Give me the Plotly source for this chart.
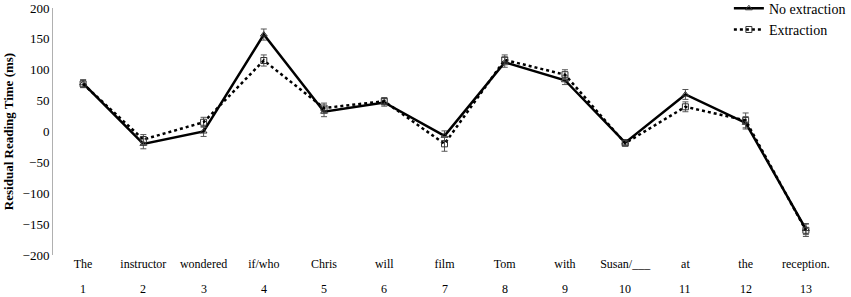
import plotly.graph_objects as go

positions = [1, 2, 3, 4, 5, 6, 7, 8, 9, 10, 11, 12, 13]
words = ["The", "instructor", "wondered", "if/who", "Chris", "will", "film",
         "Tom", "with", "Susan/___", "at", "the", "reception."]
no_extraction = [78, -20, 0, 157, 32, 47, -7, 112, 83, -18, 60, 14, -158]
no_extraction_err = [6, 8, 8, 9, 8, 6, 8, 8, 7, 5, 8, 10, 9]
extraction = [77, -13, 15, 115, 38, 49, -20, 116, 92, -19, 40, 18, -160]
extraction_err = [6, 8, 8, 9, 8, 6, 12, 8, 8, 4, 8, 12, 10]
y_ticks = [200, 150, 100, 50, 0, -50, -100, -150, -200]

FONT = "Liberation Serif"

fig = go.Figure()
fig.add_trace(go.Scatter(
    x=words, y=no_extraction, name="No extraction", mode="lines+markers",
    line=dict(color="black", width=2.5),
    marker=dict(symbol="triangle-up-open", size=6, color="#333333", line=dict(width=1)),
    error_y=dict(type="data", array=no_extraction_err, color="#555555", thickness=1, width=3),
))
fig.add_trace(go.Scatter(
    x=words, y=extraction, name="Extraction", mode="lines+markers",
    line=dict(color="black", width=2.5, dash="dot"),
    marker=dict(symbol="square-open", size=6, color="#333333", line=dict(width=1)),
    error_y=dict(type="data", array=extraction_err, color="#555555", thickness=1, width=3),
))

for w, p in zip(words, positions):
    fig.add_annotation(x=w, y=-0.138, xref="x", yref="paper", text=str(p),
                       showarrow=False, yanchor="middle",
                       font=dict(family=FONT, size=12, color="black"))

fig.update_layout(
    width=851, height=297,
    margin=dict(l=53, r=15, t=8, b=42, autoexpand=False),
    paper_bgcolor="white", plot_bgcolor="white",
    font=dict(family=FONT, size=12, color="black"),
    showlegend=True,
    legend=dict(x=1.019, y=1.062, xanchor="right", yanchor="top",
                bgcolor="rgba(0,0,0,0)", font=dict(family=FONT, size=14),
                tracegroupgap=2),
    xaxis=dict(type="category", categoryorder="array", categoryarray=words,
               showline=False, showgrid=False, zeroline=False, ticks="",
               automargin=False,
               tickfont=dict(family=FONT, size=12), range=[-0.5, 12.5]),
    yaxis=dict(range=[-200, 200], tickvals=y_ticks, showgrid=False, zeroline=False,
               showline=True, linecolor="#b0b0b0", linewidth=1, ticks="",
               automargin=False,
               tickfont=dict(family=FONT, size=13),
               title=dict(text="<b>Residual Reading Time (ms)</b>",
                          font=dict(family=FONT, size=13), standoff=6)),
)

fig.write_html("out.html", config={"displayModeBar": False},
               post_script="document.body.style.margin='0';document.body.style.overflow='hidden';")
